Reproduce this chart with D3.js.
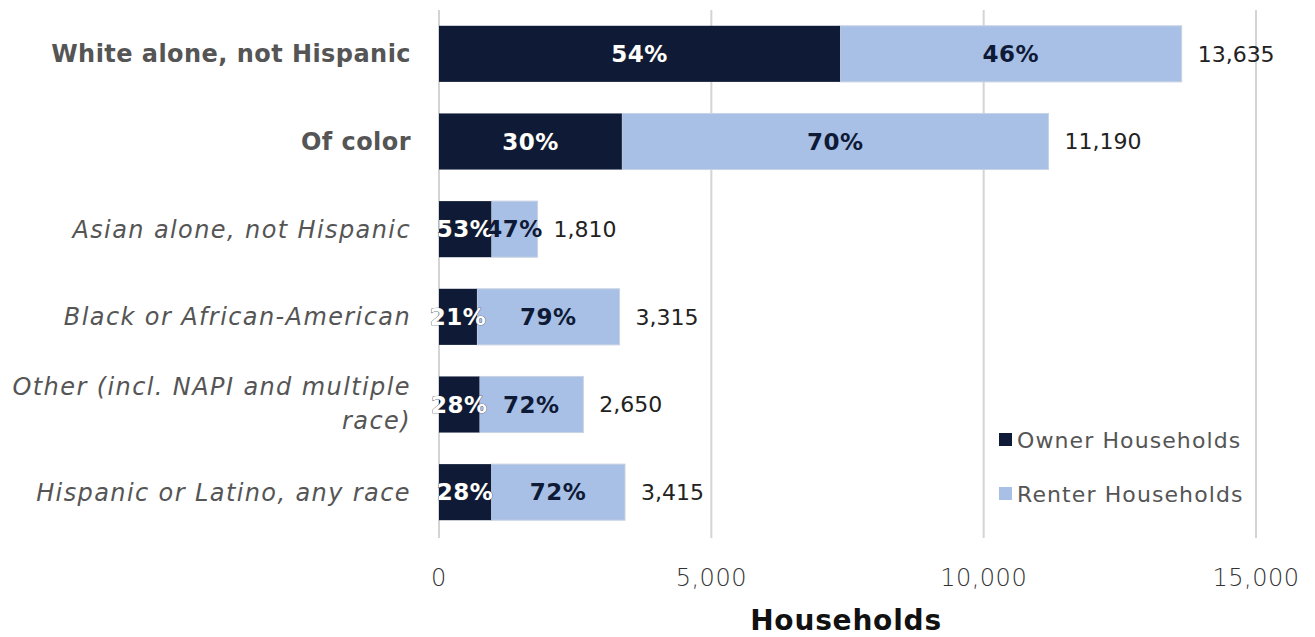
<!DOCTYPE html>
<html><head><meta charset="utf-8">
<script src="https://cdn.jsdelivr.net/npm/d3@7/dist/d3.min.js"></script>
<style>body{margin:0;background:#fff}svg{display:block}</style>
</head><body>
<script>
const categories = ["White alone, not Hispanic","Of color","Asian alone, not Hispanic","Black or African-American","Other (incl. NAPI and multiple race)","Hispanic or Latino, any race"];
const totals = [13635, 11190, 1810, 3315, 2650, 3415];
const ownerPct = [54, 30, 53, 21, 28, 28];
const renterPct = [46, 70, 47, 79, 72, 72];
const xTicks = [0, 5000, 10000, 15000];
const seriesNames = ["Owner Households", "Renter Households"];

const W = 1315, H = 637;
const FONT = "'DejaVu Sans', sans-serif";
const svg = d3.select("body").append("svg").attr("width", W).attr("height", H);

const x = d3.scaleLinear().domain([0, 15000]).range([439, 1256]);
const y = d3.scaleBand().domain(categories).range([10, 536]).paddingInner(0.36).paddingOuter(0.18);

const ownerCol = "#0e1a36", renterCol = "#a9c0e6";

// grid
svg.append("g").selectAll("line").data(xTicks).join("line")
  .attr("x1", d => x(d)).attr("x2", d => x(d)).attr("y1", 10).attr("y2", 538)
  .attr("stroke", "#d4d4d4").attr("stroke-width", 2);

const rows = categories.map((c, i) => ({c, total: totals[i], owner: totals[i]*ownerPct[i]/100, op: ownerPct[i], rp: renterPct[i]}));

const g = svg.append("g");
g.selectAll("rect.r").data(rows).join("rect").attr("class","r")
  .attr("x", d => x(d.owner)).attr("width", d => x(d.total) - x(d.owner))
  .attr("y", d => y(d.c)).attr("height", y.bandwidth())
  .attr("fill", renterCol).attr("stroke", "#c8d3e3").attr("stroke-width", 1);
g.selectAll("rect.o").data(rows).join("rect").attr("class","o")
  .attr("x", x(0)).attr("width", d => x(d.owner) - x(0))
  .attr("y", d => y(d.c)).attr("height", y.bandwidth())
  .attr("fill", ownerCol);

// percent labels
g.selectAll("text.op").data(rows).join("text").attr("class","op")
  .attr("x", d => (x(0) + x(d.owner))/2).attr("y", d => y(d.c) + y.bandwidth()/2)
  .attr("dy", "0.36em").attr("text-anchor","middle")
  .attr("font-family", FONT).attr("font-weight","bold").attr("font-size", 23).attr("letter-spacing", 0.5)
  .attr("fill","#fff").attr("stroke","#333").attr("stroke-width",0.7).attr("paint-order","stroke")
  .text(d => d.op + "%");
g.selectAll("text.rp").data(rows).join("text").attr("class","rp")
  .attr("x", d => (x(d.owner) + x(d.total))/2).attr("y", d => y(d.c) + y.bandwidth()/2)
  .attr("dy", "0.36em").attr("text-anchor","middle")
  .attr("font-family", FONT).attr("font-weight","bold").attr("font-size", 23).attr("letter-spacing", 0.5)
  .attr("fill","#0e1a36")
  .text(d => d.rp + "%");
// totals
g.selectAll("text.t").data(rows).join("text").attr("class","t")
  .attr("x", d => x(d.total) + 16).attr("y", d => y(d.c) + y.bandwidth()/2)
  .attr("dy", "0.36em").attr("font-family", FONT).attr("font-size", 22).attr("fill","#222")
  .text(d => d3.format(",")(d.total));

// category labels
const cl = svg.append("g").selectAll("text").data(rows).join("text")
  .attr("x", 411).attr("y", d => y(d.c) + y.bandwidth()/2)
  .attr("text-anchor","end").attr("font-family", FONT).attr("font-size", 24)
  .attr("fill","#555")
  .attr("font-weight", (d,i) => i < 2 ? "bold" : "normal")
  .attr("font-style", (d,i) => i < 2 ? "normal" : "italic")
  .attr("letter-spacing", (d,i) => i < 2 ? 0.45 : 1.4);
cl.each(function(d){
  const t = d3.select(this);
  if (d.c.startsWith("Other")) {
    t.append("tspan").attr("x",411).attr("dy","-0.4em").text("Other (incl. NAPI and multiple");
    t.append("tspan").attr("x",411).attr("dy","1.42em").text("race)");
  } else {
    t.attr("dy","0.36em").text(d.c);
  }
});

// x tick labels
svg.append("g").selectAll("text").data(xTicks).join("text")
  .attr("x", d => x(d)).attr("y", 586).attr("text-anchor","middle")
  .attr("font-family", FONT).attr("font-size", 24).attr("font-weight", 300).attr("fill","#333")
  .attr("letter-spacing", 0.5)
  .text(d => d3.format(",")(d));
svg.append("text").attr("x", 846).attr("y", 630).attr("text-anchor","middle")
  .attr("font-family", FONT).attr("font-weight","bold").attr("font-size", 28).attr("fill","#111")
  .attr("letter-spacing", 0.8)
  .text("Households");

// legend
const lg = svg.append("g").selectAll("g").data(seriesNames).join("g")
  .attr("transform", (d,i) => `translate(999, ${440 + i*54})`);
lg.append("rect").attr("x",0).attr("y",-7).attr("width",13).attr("height",13)
  .attr("fill", (d,i) => i ? renterCol : ownerCol);
lg.append("text").attr("x",18).attr("dy","0.36em").attr("font-family", FONT).attr("font-size",22)
  .attr("fill","#555").attr("letter-spacing", 1.1).text(d => d);
</script>
</body></html>
